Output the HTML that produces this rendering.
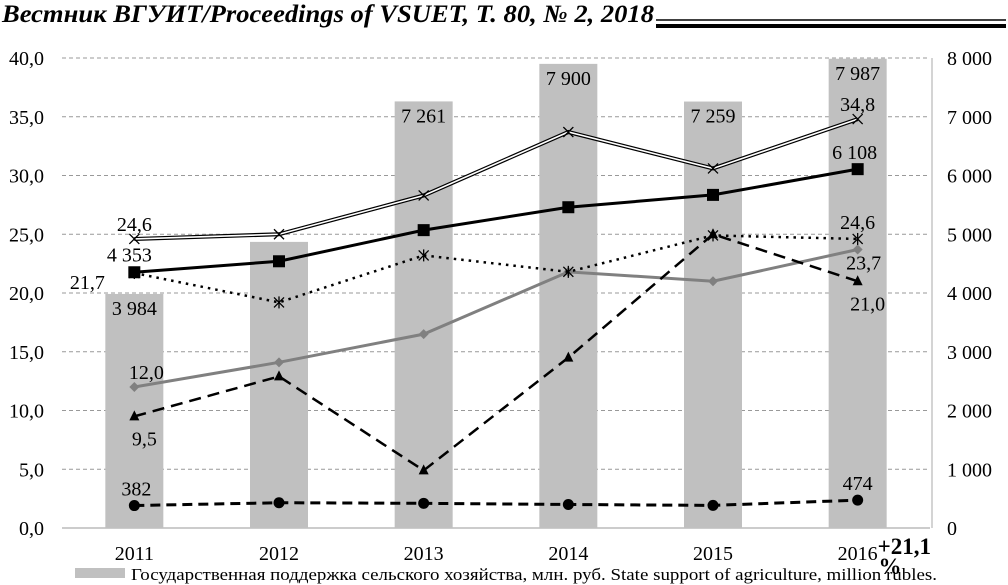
<!DOCTYPE html>
<html><head><meta charset="utf-8">
<style>
html,body{margin:0;padding:0;background:#fff;width:1008px;height:585px;overflow:hidden}
svg{display:block;font-family:"Liberation Serif",serif}
</style></head>
<body>
<svg id="chart" width="1008" height="585" viewBox="0 0 1008 585" xmlns="http://www.w3.org/2000/svg">
<text x="2" y="22" font-size="25" font-style="italic" font-weight="bold" textLength="652" lengthAdjust="spacingAndGlyphs" font-family="Liberation Serif,serif">Вестник ВГУИТ/Proceedings of VSUET, Т. 80, № 2, 2018</text>
<line x1="656" y1="20" x2="1006" y2="20" stroke="#000" stroke-width="1.5"/>
<line x1="656" y1="26" x2="1006" y2="26" stroke="#000" stroke-width="4"/>
<g id="grid"></g><g id="bars"></g><g id="lines"></g><g id="labels"></g>
<text x="931" y="554" font-size="23" font-weight="bold" text-anchor="end">+21,1</text>
<text x="890" y="574" font-size="23" font-weight="bold" text-anchor="middle">%</text>
<rect x="75" y="568" width="50" height="10" fill="#c0c0c0"/>
<text x="131" y="580" font-size="17" textLength="806" lengthAdjust="spacingAndGlyphs">Государственная поддержка сельского хозяйства, млн. руб. State support of agriculture, million rubles.</text>
</svg>
<script>
const categories=["2011","2012","2013","2014","2015","2016"];
const barValues=[3984,4870,7261,7900,7259,7987];
const barLabelShown=[true,false,true,true,true,true];
const doubleLine=[24.6,25.0,28.3,33.7,30.6,34.8];
const squareLine=[4353,4540,5070,5460,5670,6108];
const dottedLine=[21.7,19.2,23.2,21.8,24.9,24.6];
const diamondLine=[12.0,14.1,16.5,21.8,21.0,23.7];
const triangleLine=[9.5,12.9,4.9,14.5,25.0,21.0];
const circleLine=[382,430,420,400,385,474];
const leftTicks=["0,0","5,0","10,0","15,0","20,0","25,0","30,0","35,0","40,0"];
const rightTicks=["0","1 000","2 000","3 000","4 000","5 000","6 000","7 000","8 000"];

const NS="http://www.w3.org/2000/svg";
const X0=62,X1=930,Y0=528,Y1=58;
const bw=(X1-X0)/categories.length;
const xc=i=>X0+bw*(i+0.5);
const yL=v=>Y0-(v/40)*(Y0-Y1);
const yR=v=>Y0-(v/8000)*(Y0-Y1);
function mk(parent,tag,attrs){const e=document.createElementNS(NS,tag);for(const k in attrs)e.setAttribute(k,attrs[k]);document.getElementById(parent).appendChild(e);return e;}
function txt(parent,x,y,s,anchor,size){const t=mk(parent,"text",{x:x,y:y,"font-size":size||20,"text-anchor":anchor||"middle"});t.textContent=s;return t;}

leftTicks.forEach((s,i)=>{
  const y=Y0-i*(Y0-Y1)/8;
  if(i>0){const g=mk("grid","line",{x1:X0,x2:X1,y1:y,y2:y,stroke:"#999","stroke-dasharray":"4,3","stroke-width":1});
  
  }
  const t=txt("grid",44,y+7,s,"end");
  
  
  const r=txt("grid",947,y+7,rightTicks[i],"start");
  
  
});
const ax=mk("grid","line",{x1:X0,x2:X1,y1:Y0,y2:Y0,stroke:"#999"});


const ra=mk("grid","line",{x1:X1+2,x2:X1+2,y1:Y1,y2:Y0,stroke:"#aaa"});


categories.forEach((c,i)=>{
  const t=txt("grid",xc(i),560,c,"middle");
  
  
});

barValues.forEach((v,i)=>{
  const r=mk("bars","rect",{x:xc(i)-29,y:yR(v),width:58,height:Y0-yR(v),fill:"#c0c0c0"});
  
  
  if(barLabelShown[i]){
  const t=txt("labels",xc(i),yR(v)+21,v.toLocaleString('ru-RU').replace(/\s/g,' '),"middle");
  
  }
});

function pts(arr,f){return arr.map((v,i)=>xc(i)+","+f(v)).join(" ");}
function xMark(x,y,name){const p=mk("lines","path",{d:`M${x-5},${y-5}L${x+5},${y+5}M${x-5},${y+5}L${x+5},${y-5}`,stroke:"#000","stroke-width":1.3,fill:"none"});}

const d1=mk("lines","polyline",{points:pts(doubleLine,yL),fill:"none",stroke:"#000","stroke-width":4});


mk("lines","polyline",{points:pts(doubleLine,yL),fill:"none",stroke:"#fff","stroke-width":1.6});
doubleLine.forEach((v,i)=>xMark(xc(i),yL(v),'double-line-marker'));

const dg=mk("lines","polyline",{points:pts(diamondLine,yL),fill:"none",stroke:"#808080","stroke-width":3});


diamondLine.forEach((v,i)=>{const x=xc(i),y=yL(v);const p=mk("lines","path",{d:`M${x},${y-5}L${x+5},${y}L${x},${y+5}L${x-5},${y}Z`,fill:"#808080"});
});

const ds=mk("lines","polyline",{points:pts(dottedLine,yL),fill:"none",stroke:"#000","stroke-width":2.5,"stroke-dasharray":"2.5,5"});


dottedLine.forEach((v,i)=>{const x=xc(i),y=yL(v);xMark(x,y,'asterisk-marker');const p=mk("lines","line",{x1:x,x2:x,y1:y-6,y2:y+6,stroke:"#000","stroke-width":1.3});
});

const td=mk("lines","polyline",{points:pts(triangleLine,yL),fill:"none",stroke:"#000","stroke-width":2.5,"stroke-dasharray":"12,7"});


triangleLine.forEach((v,i)=>{const x=xc(i),y=yL(v);const p=mk("lines","path",{d:`M${x},${y-6}L${x+5},${y+4}L${x-5},${y+4}Z`,fill:"#000"});
});

const sq=mk("lines","polyline",{points:pts(squareLine,yR),fill:"none",stroke:"#000","stroke-width":3});


squareLine.forEach((v,i)=>{const x=xc(i),y=yR(v);const p=mk("lines","rect",{x:x-6,y:y-6,width:12,height:12,fill:"#000"});
});

const cd=mk("lines","polyline",{points:pts(circleLine,yR),fill:"none",stroke:"#000","stroke-width":3,"stroke-dasharray":"10,6"});


circleLine.forEach((v,i)=>{const p=mk("lines","circle",{cx:xc(i),cy:yR(v),r:5.5,fill:"#000"});
});

function lab(x,y,s){const t=txt("labels",x,y,s,"middle");}
const f1=v=>v.toFixed(1).replace('.',',');
const fk=v=>v.toLocaleString('ru-RU').replace(/\s/g,' ');
lab(xc(0),yL(doubleLine[0])-8,f1(doubleLine[0]));
lab(xc(5),yL(doubleLine[5])-8,f1(doubleLine[5]));
lab(xc(0)-5,yR(squareLine[0])-11,fk(squareLine[0]));
lab(xc(5)-3,yR(squareLine[5])-10,fk(squareLine[5]));
lab(xc(0)-47,yL(dottedLine[0])+16,f1(dottedLine[0]));
lab(xc(5),yL(dottedLine[5])-10,f1(dottedLine[5]));
lab(xc(0)+12,yL(diamondLine[0])-8,f1(diamondLine[0]));
lab(xc(5)+6,yL(diamondLine[5])+20,f1(diamondLine[5]));
lab(xc(0)+10,yL(triangleLine[0])+29,f1(triangleLine[0]));
lab(xc(5)+10,yL(triangleLine[5])+29,f1(triangleLine[5]));
lab(xc(0)+2,yR(circleLine[0])-10,fk(circleLine[0]));
lab(xc(5),yR(circleLine[5])-10,fk(circleLine[5]));
</script>
</body></html>
